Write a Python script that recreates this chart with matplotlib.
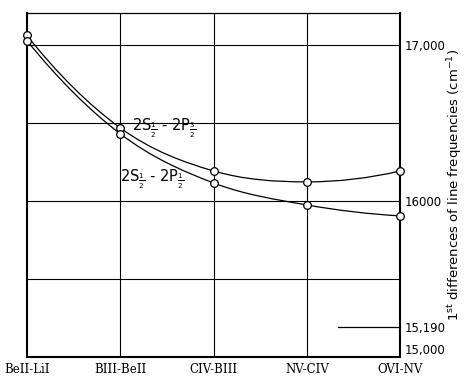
import matplotlib
matplotlib.use("Agg")
import matplotlib.pyplot as plt
from matplotlib.path import Path
from matplotlib.patches import PathPatch
import numpy as np

# Ion pairs along the isoelectronic sequence
pairs = ["BeII-LiI", "BIII-BeII", "CIV-BIII", "NV-CIV", "OVI-NV"]

# First differences of line frequencies, cm^-1
diff_p32 = [17060, 16468, 16192, 16122, 16192]   # 2S1/2 - 2P3/2
diff_p12 = [17027, 16430, 16115, 15974, 15904]   # 2S1/2 - 2P1/2

ytick_vals = [15000, 15190, 16000, 17000]
ytick_text = ["15,000", "15,190", "16000", "17,000"]
grid_y = [15500, 16000, 16500, 17000]


def smooth_path(xs, ys):
    """Catmull-Rom curve through the points, as cubic Bezier segments.
    End tangents chosen so the end segments are parabolic."""
    pts = np.column_stack([xs, ys]).astype(float)
    m1 = (pts[2] - pts[0]) / 2.0
    m0 = 2 * (pts[1] - pts[0]) - m1
    mn1 = (pts[-1] - pts[-3]) / 2.0
    mn = 2 * (pts[-1] - pts[-2]) - mn1
    first = pts[1] - 2 * m0
    last = pts[-2] + 2 * mn
    ext = np.vstack([first, pts, last])
    verts = [tuple(pts[0])]
    codes = [Path.MOVETO]
    for i in range(1, len(ext) - 2):
        p0, p1, p2, p3 = ext[i - 1], ext[i], ext[i + 1], ext[i + 2]
        c1 = p1 + (p2 - p0) / 6.0
        c2 = p2 - (p3 - p1) / 6.0
        verts += [tuple(c1), tuple(c2), tuple(p2)]
        codes += [Path.CURVE4] * 3
    return Path(verts, codes)


fig = plt.figure(figsize=(4.72, 3.77), dpi=100)
fig.patch.set_facecolor("white")
ax = fig.add_axes([0.057, 0.053, 0.791, 0.913])

x = np.arange(len(pairs))
ax.set_xlim(0, len(pairs) - 1)
ax.set_ylim(15000, 17205)

# grid
for gx in x[1:-1]:
    ax.axvline(gx, color="black", lw=0.8, zorder=1)
for gy in grid_y:
    ax.axhline(gy, color="black", lw=0.8, zorder=1)

# marker line for 15,190
ax.plot([3.33, 4], [15190, 15190], color="black", lw=0.9, clip_on=False)

for ys in (diff_p32, diff_p12):
    ax.add_patch(PathPatch(smooth_path(x, ys), facecolor="none",
                           edgecolor="black", lw=0.9, zorder=2))
    ax.plot(x, ys, linestyle="none", marker="o", ms=5.5, mfc="white",
            mec="black", mew=0.9, zorder=3, clip_on=False)

ax.text(1.13, 16462, r"2S$_{\frac{1}{2}}$ - 2P$_{\frac{3}{2}}$",
        fontsize=10.5, va="center", ha="left")
ax.text(1.0, 16140, r"2S$_{\frac{1}{2}}$ - 2P$_{\frac{1}{2}}$",
        fontsize=10.5, va="center", ha="left")

for sp in ("left", "bottom", "right"):
    ax.spines[sp].set_linewidth(1.5)
ax.spines["top"].set_linewidth(0.9)

ax.set_xticks(x)
ax.set_xticklabels(pairs, family="DejaVu Serif", fontsize=8.5)
ax.tick_params(axis="x", length=0, pad=4)

ax.yaxis.tick_right()
ax.set_yticks(ytick_vals)
ax.set_yticklabels(ytick_text, family="DejaVu Sans", fontsize=8.5)
ax.tick_params(axis="y", length=0, pad=3)
ax.get_yticklabels()[0].set_va("bottom")

fig.text(0.965, 0.51, r"1$^{\rm st}$ differences of line frequencies (cm$^{-1}$)",
         rotation=90, ha="center", va="center", fontsize=9.5)

fig.savefig("out.png", dpi=100, facecolor="white")
